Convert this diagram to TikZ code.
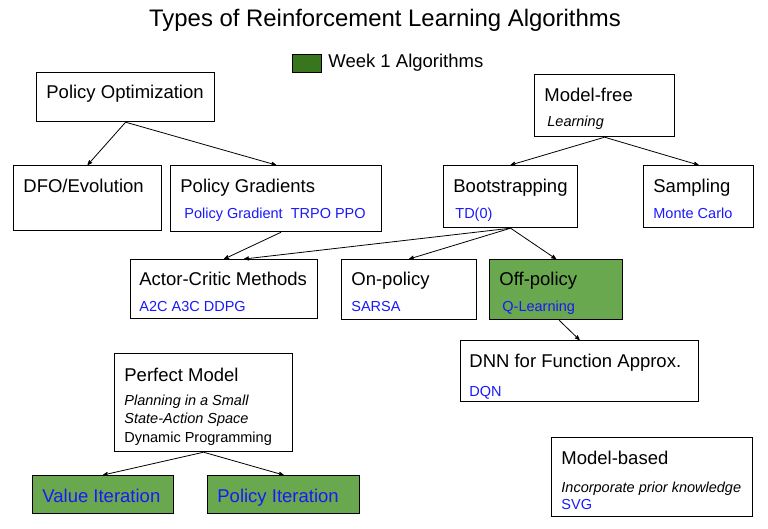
\documentclass[tikz,border=0pt]{standalone}
\usepackage{fontspec}
\setmainfont{Liberation Sans}
\usepackage{tikz}
\usetikzlibrary{arrows,shapes,positioning}
\definecolor{weekgreen}{HTML}{6AA84F}
\definecolor{keygreen}{HTML}{38761D}
\definecolor{algblue}{RGB}{25,25,250}
\tikzset{
	box/.style 2 args = {draw=black, line width=1.2pt, anchor=north west, inner sep=0pt, minimum width=#1pt, minimum height=#2pt},
	wk1/.style = {fill=weekgreen},
	ttl/.style = {anchor=base west, inner sep=0pt, font=\fontsize{18.5}{22}\selectfont},
	sub/.style = {anchor=base west, inner sep=0pt, font=\fontsize{14.5}{17}\selectfont},
	alg/.style = {sub, text=algblue},
	note/.style = {sub, font=\fontsize{14.5}{17}\selectfont\itshape}
}
\begin{document}
\begin{tikzpicture}[->,>=stealth', line width=0.8pt, x=1pt, y=-1pt]
	\useasboundingbox (0,0) rectangle (768,529);
	% title and legend
	\node [anchor=base, inner sep=0pt, font=\fontsize{23.9}{26}\selectfont] (title) at (385,27) {Types of Reinforcement Learning Algorithms};
	\node [box={29}{18}, fill=keygreen, line width=0.8pt] (key) at (292,54) {};
	\node [ttl] (key-t) at (328,68) {Week 1 Algorithms};
	% policy optimization branch
	\node [box={178}{49}] (po) at (36,72) {};
	\node [ttl] (po-t) at (46,99) {Policy Optimization};
	\node [box={148}{65}] (dfo) at (13,165) {};
	\node [ttl] (dfo-t) at (23,193) {DFO/Evolution};
	\node [box={211}{66}] (pg) at (170,165) {};
	\node [ttl] (pg-t) at (180,193) {Policy Gradients};
	\node [alg] (pg-a) at (184,219) {Policy Gradient\ \ TRPO PPO};
	\node [box={187}{59}] (ac) at (130,259) {};
	\node [ttl] (ac-t) at (139,285) {Actor-Critic Methods};
	\node [alg] (ac-a) at (139,312) {A2C A3C DDPG};
	% model-free branch
	\node [box={140}{62}] (mf) at (534,74) {};
	\node [ttl] (mf-t) at (544,102) {Model-free};
	\node [note] (mf-n) at (547,127) {Learning};
	\node [box={134}{62}] (bs) at (443,165) {};
	\node [ttl] (bs-t) at (453,193) {Bootstrapping};
	\node [alg] (bs-a) at (455,219) {TD(0)};
	\node [box={110}{62}] (sa) at (643,165) {};
	\node [ttl] (sa-t) at (653,193) {Sampling};
	\node [alg] (sa-a) at (653,219) {Monte Carlo};
	\node [box={135}{60}] (on) at (341,259) {};
	\node [ttl] (on-t) at (351,285) {On-policy};
	\node [alg] (on-a) at (351,312) {SARSA};
	\node [box={133}{60}, wk1] (off) at (489,259) {};
	\node [ttl] (off-t) at (499,286) {Off-policy};
	\node [alg] (off-a) at (502,312) {Q-Learning};
	\node [box={238}{61}] (dnn) at (460,340) {};
	\node [ttl] (dnn-t) at (469,367) {DNN for Function Approx.};
	\node [alg] (dnn-a) at (469,396) {DQN};
	% model-based
	\node [box={201}{79}] (mb) at (551,437) {};
	\node [ttl] (mb-t) at (561,464) {Model-based};
	\node [note] (mb-n) at (561,492) {Incorporate prior knowledge};
	\node [alg] (mb-a) at (561,509) {SVG};
	% perfect model branch
	\node [box={178}{98}] (pm) at (114,353) {};
	\node [ttl] (pm-t) at (124,381) {Perfect Model};
	\node [note] (pm-n1) at (124,405) {Planning in a Small};
	\node [note] (pm-n2) at (124,423) {State-Action Space};
	\node [sub] (pm-s) at (124,442) {Dynamic Programming};
	\node [box={141}{38}, wk1] (vi) at (32,475) {};
	\node [ttl, text=algblue] (vi-t) at (42,502) {Value Iteration};
	\node [box={152}{38}, wk1] (pi) at (207,475) {};
	\node [ttl, text=algblue] (pi-t) at (217,502) {Policy Iteration};
	% connectors
	\draw (po.south) -- (dfo.north);
	\draw (po.south) -- (pg.north);
	\draw ([xshift=5pt]pg.south) -- (ac.north);
	\draw (mf.south) -- (bs.north);
	\draw (mf.south) -- (sa.north);
	\draw (bs.south) -- ([xshift=20pt]ac.north);
	\draw (bs.south) -- (on.north);
	\draw (bs.south) -- (off.north);
	\draw ([xshift=3pt]off.south) -- (dnn.north);
	\draw (pm.south) -- (vi.north);
	\draw (pm.south) -- (pi.north);
\end{tikzpicture}
\end{document}
